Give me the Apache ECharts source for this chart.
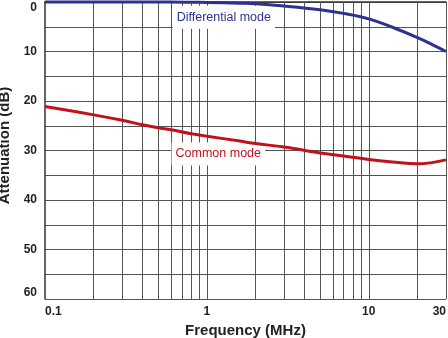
<!DOCTYPE html>
<html><head><meta charset="utf-8">
<script src="https://cdn.jsdelivr.net/npm/echarts@6/dist/echarts.min.js"></script>
<style>html,body{margin:0;padding:0;background:#fff}#c{width:448px;height:338px}</style>
</head><body><div id="c"></div>
<script>
const freqMHz = [0.1, 0.2, 0.3, 0.4, 0.5, 0.6, 0.8, 1, 1.6, 2, 3, 5, 7, 10, 14, 20, 24, 30];
const differentialMode = [0, 0, 0, 0, 0, 0, 0.05, 0.1, 0.25, 0.35, 0.8, 1.55, 2.3, 3.4, 5.1, 7.2, 8.4, 10];
const commonMode = [21.1, 22.8, 23.9, 24.8, 25.4, 25.8, 26.6, 27.1, 28.1, 28.6, 29.3, 30.5, 31.1, 31.8, 32.3, 32.7, 32.5, 31.9];
const xTickLabels = [0.1, 1, 10, 30];
const xGridLines = [0.2, 0.3, 0.4, 0.5, 0.6, 0.7, 0.8, 0.9, 1, 2, 3, 4, 5, 6, 7, 8, 9, 10, 20, 30];
const labelDiff = {text: 'Differential mode', x: 0.615, y: 3.1};
const labelCommon = {text: 'Common mode', x: 0.605, y: 30.7};

const FONT = '"Liberation Sans", Arial, Helvetica, sans-serif';
const chart = echarts.init(document.getElementById('c'), null, {renderer: 'canvas'});
const pair = (xs, ys) => xs.map((x, i) => [x, ys[i]]);
const ann = (a, color) => ({
  coord: [a.x, a.y], symbol: 'circle', symbolSize: 0,
  label: {show: true, formatter: a.text, position: 'inside', align: 'left', verticalAlign: 'middle',
    color: color, fontFamily: FONT, fontSize: 12.5, backgroundColor: '#fff', padding: [5, 4, 5, 4]}
});
chart.setOption({
  animation: false,
  grid: {left: 45, right: 2, top: 2, bottom: 39, outerBoundsMode: 'none', containLabel: false},
  xAxis: {
    type: 'log', min: 0.1, max: 30, logBase: 10,
    name: 'Frequency (MHz)', nameLocation: 'middle', nameGap: 21,
    nameTextStyle: {fontFamily: FONT, fontWeight: 'bold', fontSize: 15, color: '#222'},
    axisLine: {show: true, lineStyle: {color: '#333', width: 1.5}},
    axisTick: {show: false},
    splitLine: {show: false},
    axisLabel: {customValues: xTickLabels, fontFamily: FONT, fontWeight: 'bold', fontSize: 12, color: '#222',
      margin: 7, alignMinLabel: 'left', alignMaxLabel: 'right', showMinLabel: true, showMaxLabel: true,
      formatter: v => String(+(+v).toPrecision(3))}
  },
  yAxis: {
    type: 'value', min: 0, max: 60, interval: 10, inverse: true,
    name: 'Attenuation (dB)', nameLocation: 'middle', nameGap: 29,
    nameTextStyle: {fontFamily: FONT, fontWeight: 'bold', fontSize: 15, color: '#222', padding: [0, 0, 0, 10]},
    axisLine: {show: true, lineStyle: {color: '#333', width: 1.5}},
    axisTick: {show: false},
    axisLabel: {fontFamily: FONT, fontWeight: 'bold', fontSize: 12, color: '#222', margin: 8,
      verticalAlignMinLabel: 'top', verticalAlignMaxLabel: 'bottom'},
    splitLine: {show: true, lineStyle: {color: '#555', width: 1}},
    minorTick: {show: false, splitNumber: 2},
    minorSplitLine: {show: true, lineStyle: {color: '#555', width: 1}}
  },
  series: [
    {
      type: 'line', data: [], silent: true,
      markLine: {silent: true, symbol: ['none', 'none'], animation: false,
        label: {show: false}, lineStyle: {color: '#555', width: 1, type: 'solid'},
        data: xGridLines.map(v => ({xAxis: v}))}
    },
    {
      name: 'Differential mode', type: 'line', smooth: 0.4, showSymbol: false, clip: false,
      data: pair(freqMHz, differentialMode), z: 5,
      lineStyle: {color: '#2e3192', width: 3},
      markPoint: {silent: true, data: [ann(labelDiff, '#2e3192')]}
    },
    {
      name: 'Common mode', type: 'line', smooth: 0.4, showSymbol: false,
      data: pair(freqMHz, commonMode), z: 5,
      lineStyle: {color: '#c1121c', width: 3},
      markPoint: {silent: true, data: [ann(labelCommon, '#c1121c')]}
    }
  ]
});
</script></body></html>
